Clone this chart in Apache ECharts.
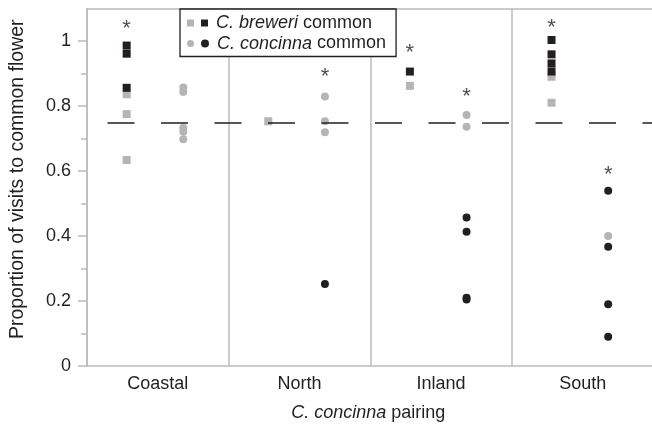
<!DOCTYPE html>
<html>
<head>
<meta charset="utf-8">
<script src="https://cdn.jsdelivr.net/npm/echarts@6/dist/echarts.min.js"></script>
<style>html,body{margin:0;padding:0;background:#fff}#c{width:652px;height:429px}</style>
</head>
<body>
<div id="c"></div>
<script>
// ---- data ----
var categories = ['Coastal', 'North', 'Inland', 'South'];
// C. breweri common (squares): grey = individual, black = significant individual
var breweriGrey  = [[0.836, 0.775, 0.634], [0.753], [0.862], [0.89, 0.81]];
var breweriBlack = [[0.986, 0.961, 0.856], [], [0.906], [1.003, 0.959, 0.931, 0.906]];
// C. concinna common (circles)
var concinnaGrey  = [[0.857, 0.843, 0.733, 0.721, 0.698], [0.829, 0.753, 0.719], [0.772, 0.736], [0.40]];
var concinnaBlack = [[], [0.252], [0.457, 0.413, 0.21, 0.205], [0.539, 0.367, 0.19, 0.09]];
// significance asterisks (null = none)
var breweriStar  = [1.052, null, 0.978, 1.056];
var concinnaStar = [null, 0.906, 0.844, 0.603];
var referenceLine = 0.75;
var yTicks = [0, 0.2, 0.4, 0.6, 0.8, 1];
var yMinorTicks = [0.1, 0.3, 0.5, 0.7, 0.9];

// ---- layout helpers ----
var SQ_OFF = -0.44, CI_OFF = 0.36;
function pts(groups, off) {
  var out = [];
  groups.forEach(function (g, i) { g.forEach(function (v) { out.push([2 * i + 1 + off, v]); }); });
  return out;
}
function stars(arr, off) {
  var out = [];
  arr.forEach(function (v, i) { if (v !== null) out.push([2 * i + 1 + off, v]); });
  return out;
}

var GREY = '#b5b5b8', BLACK = '#231f20', AXIS = '#bbbbbf';
var FONT = '"Liberation Sans", Arial, Helvetica, sans-serif';

var chart = echarts.init(document.getElementById('c'));
chart.setOption({
  animation: false,
  textStyle: { fontFamily: FONT },
  grid: { left: 87, right: -1.5, top: 8.5, bottom: 63, outerBoundsMode: 'none', containLabel: false },
  legend: {
    orient: 'vertical', left: 180, top: 9,
    padding: [4, 10, 3, 7], itemGap: 0.5,
    itemWidth: 7, itemHeight: 7,
    backgroundColor: '#fff', borderColor: BLACK, borderWidth: 1.3, borderRadius: 0,
    selectedMode: false,
    data: [{ name: 'breweriGrey', icon: 'rect' }, { name: 'concinnaGrey', icon: 'circle' }],
    formatter: function (name) {
      if (name === 'breweriGrey') return '{s|}{k|}{t|}{i|C. breweri} common';
      return '{s|}{c|}{t|}{i|C. concinna} common';
    },
    textStyle: {
      fontSize: 18, color: BLACK, fontFamily: FONT, lineHeight: 20,
      rich: {
        s: { width: 2 },
        k: { width: 7, height: 7, backgroundColor: BLACK },
        c: { width: 8, height: 8, borderRadius: 4, backgroundColor: BLACK },
        t: { width: 8 },
        i: { fontStyle: 'italic', fontSize: 18, color: BLACK, fontFamily: FONT }
      }
    }
  },
  xAxis: [
    {
      type: 'category', data: categories, boundaryGap: true, position: 'bottom',
      axisLine: { show: true, lineStyle: { color: AXIS, width: 1.5 } },
      axisTick: { show: false },
      axisLabel: { fontSize: 18, color: BLACK, margin: 9 },
      splitLine: { show: true, lineStyle: { color: AXIS, width: 1.5 } },
      name: '{i|C. concinna} pairing', nameLocation: 'middle', nameGap: 38,
      nameTextStyle: { fontSize: 18, color: BLACK, padding: [0, 4, 0, 0], rich: { i: { fontStyle: 'italic', fontSize: 18, color: BLACK } } }
    },
    {
      type: 'value', min: 0, max: 8, position: 'top',
      axisLine: { show: true, onZero: false, lineStyle: { color: AXIS, width: 1.5 } },
      axisTick: { show: false }, axisLabel: { show: false }, splitLine: { show: false }
    }
  ],
  yAxis: [
    {
      type: 'value', min: 0, max: 1.1, interval: 0.2, position: 'left',
      axisLine: { show: true, lineStyle: { color: AXIS, width: 1.5 } },
      axisTick: { show: true, length: 9, customValues: yTicks, lineStyle: { color: AXIS, width: 1.5 } },
      axisLabel: { customValues: yTicks, fontSize: 18, color: BLACK, margin: 16 },
      splitLine: { show: false },
      name: 'Proportion of visits to common flower', nameLocation: 'middle', nameGap: 59,
      nameTextStyle: { fontSize: 19.5, color: BLACK, padding: [0, 0, 0, 16] }
    },
    {
      type: 'value', min: 0, max: 1.1, position: 'left',
      axisLine: { show: false },
      axisTick: { show: true, length: 6, customValues: yMinorTicks, lineStyle: { color: AXIS, width: 1.5 } },
      axisLabel: { show: false }, splitLine: { show: false }
    }
  ],
  series: [
    {
      name: 'ref', type: 'scatter', xAxisIndex: 1, data: [], z: 1,
      markLine: {
        silent: true, symbol: 'none', label: { show: false },
        lineStyle: { color: BLACK, width: 1.5, type: [27, 26.5], dashOffset: 33 },
        data: [{ yAxis: referenceLine }]
      }
    },
    { name: 'breweriGrey', type: 'scatter', xAxisIndex: 1, symbol: 'rect', symbolSize: 8, z: 3,
      itemStyle: { color: GREY, opacity: 1 }, data: pts(breweriGrey, SQ_OFF) },
    { name: 'concinnaGrey', type: 'scatter', xAxisIndex: 1, symbol: 'circle', symbolSize: 8, z: 3,
      itemStyle: { color: GREY, opacity: 1 }, data: pts(concinnaGrey, CI_OFF) },
    { name: 'breweriBlack', type: 'scatter', xAxisIndex: 1, symbol: 'rect', symbolSize: 8, z: 4,
      itemStyle: { color: BLACK, opacity: 1 }, data: pts(breweriBlack, SQ_OFF) },
    { name: 'concinnaBlack', type: 'scatter', xAxisIndex: 1, symbol: 'circle', symbolSize: 8, z: 4,
      itemStyle: { color: BLACK, opacity: 1 }, data: pts(concinnaBlack, CI_OFF) },
    { name: 'stars', type: 'scatter', xAxisIndex: 1, symbolSize: 1, z: 5,
      itemStyle: { color: 'rgba(0,0,0,0)' },
      label: { show: true, position: 'inside', formatter: '*', fontSize: 22, color: BLACK, offset: [0, 5] },
      data: stars(breweriStar, SQ_OFF).concat(stars(concinnaStar, CI_OFF)) }
  ]
});
</script>
</body>
</html>
